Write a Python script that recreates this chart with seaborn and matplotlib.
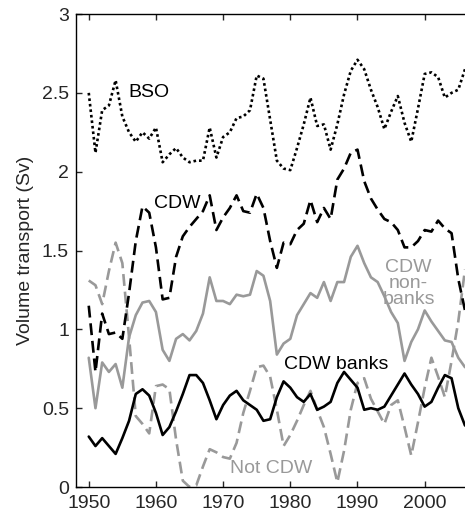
import numpy as np
import pandas as pd
import matplotlib
matplotlib.use("Agg")
import matplotlib.pyplot as plt
import seaborn as sns

years = list(range(1950, 2007))

bso = [2.50, 2.12, 2.39, 2.42, 2.58, 2.35, 2.25, 2.19, 2.25, 2.21,
       2.28, 2.06, 2.11, 2.15, 2.09, 2.06, 2.07, 2.07, 2.28, 2.09,
       2.22, 2.25, 2.34, 2.35, 2.39, 2.61, 2.59, 2.33, 2.07, 2.02,
       2.01, 2.15, 2.30, 2.47, 2.29, 2.30, 2.14, 2.30, 2.49, 2.64,
       2.71, 2.65, 2.52, 2.41, 2.27, 2.38, 2.48, 2.31, 2.19, 2.40,
       2.62, 2.63, 2.60, 2.47, 2.50, 2.52, 2.65]

cdw = [1.15, 0.73, 1.10, 0.97, 0.98, 0.94, 1.23, 1.56, 1.78, 1.74,
       1.52, 1.19, 1.20, 1.46, 1.59, 1.65, 1.70, 1.75, 1.85, 1.63,
       1.71, 1.77, 1.85, 1.75, 1.74, 1.86, 1.77, 1.56, 1.39, 1.55,
       1.54, 1.63, 1.67, 1.82, 1.68, 1.77, 1.70, 1.95, 2.02, 2.12,
       2.14, 1.94, 1.83, 1.76, 1.70, 1.68, 1.63, 1.52, 1.52, 1.56,
       1.63, 1.62, 1.69, 1.64, 1.61, 1.32, 1.12]

cdw_nonbanks = [0.82, 0.50, 0.79, 0.73, 0.78, 0.63, 0.95, 1.09, 1.17, 1.18,
                1.11, 0.87, 0.80, 0.94, 0.97, 0.93, 0.99, 1.10, 1.33, 1.18,
                1.18, 1.16, 1.22, 1.21, 1.22, 1.37, 1.34, 1.18, 0.84, 0.91,
                0.94, 1.09, 1.16, 1.23, 1.20, 1.30, 1.18, 1.30, 1.30, 1.46,
                1.53, 1.42, 1.33, 1.30, 1.21, 1.11, 1.04, 0.80, 0.92, 1.00,
                1.12, 1.05, 0.99, 0.93, 0.92, 0.82, 0.76]

cdw_banks = [0.32, 0.26, 0.31, 0.26, 0.21, 0.31, 0.42, 0.59, 0.62, 0.58,
             0.47, 0.33, 0.38, 0.48, 0.59, 0.71, 0.71, 0.66, 0.55, 0.43,
             0.52, 0.58, 0.61, 0.55, 0.52, 0.49, 0.42, 0.43, 0.57, 0.67,
             0.63, 0.57, 0.54, 0.59, 0.49, 0.51, 0.54, 0.66, 0.73, 0.68,
             0.63, 0.49, 0.50, 0.49, 0.51, 0.58, 0.65, 0.72, 0.65, 0.59,
             0.51, 0.54, 0.63, 0.71, 0.69, 0.50, 0.39]

not_cdw = [1.31, 1.28, 1.16, 1.37, 1.55, 1.42, 0.95, 0.45, 0.40, 0.34,
           0.64, 0.65, 0.62, 0.30, 0.04, 0.00, 0.01, 0.13, 0.24, 0.22,
           0.19, 0.18, 0.28, 0.47, 0.61, 0.76, 0.77, 0.70, 0.49, 0.26,
           0.33, 0.42, 0.52, 0.61, 0.49, 0.38, 0.21, 0.03, 0.23, 0.49,
           0.66, 0.69, 0.56, 0.48, 0.40, 0.52, 0.55, 0.38, 0.20, 0.41,
           0.63, 0.82, 0.70, 0.57, 0.80, 1.05, 1.38]

x_ticks = [1950, 1960, 1970, 1980, 1990, 2000]
y_ticks = [0, 0.5, 1, 1.5, 2, 2.5, 3]
y_tick_labels = ["0", "0.5", "1", "1.5", "2", "2.5", "3"]

df = pd.DataFrame({
    "year": years,
    "BSO": bso,
    "CDW": cdw,
    "CDW non-banks": cdw_nonbanks,
    "CDW banks": cdw_banks,
    "Not CDW": not_cdw,
})

sns.set_style("ticks")
plt.rcParams["font.family"] = ["Liberation Sans", "DejaVu Sans"]
plt.rcParams["font.size"] = 14

GREY = "#999999"

fig = plt.figure(figsize=(4.65, 5.18), dpi=100)
ax = fig.add_axes([0.1634, 0.0598, 0.8366, 0.9131])

lw = 1.9
sns.lineplot(data=df, x="year", y="Not CDW", ax=ax, color=GREY, lw=lw,
             linestyle=(0, (4.5, 2.2)))
sns.lineplot(data=df, x="year", y="CDW non-banks", ax=ax, color=GREY, lw=lw)
sns.lineplot(data=df, x="year", y="CDW banks", ax=ax, color="black", lw=lw)
sns.lineplot(data=df, x="year", y="CDW", ax=ax, color="black", lw=lw,
             linestyle=(0, (4.5, 2.2)))
sns.lineplot(data=df, x="year", y="BSO", ax=ax, color="black", lw=lw,
             linestyle=(0, (1, 1.1)))

ax.set_xlim(1948.1, 2006.0)
ax.set_ylim(0, 3)
ax.set_xticks(x_ticks)
ax.set_xticklabels([str(t) for t in x_ticks])
ax.set_yticks(y_ticks)
ax.set_yticklabels(y_tick_labels)
ax.set_xlabel("")
ax.set_ylabel("Volume transport (Sv)", fontsize=14, labelpad=6)

ax.tick_params(direction="in", length=4, width=1, labelsize=14,
               top=True, right=False)
ax.tick_params(axis="x", pad=6)
ax.tick_params(axis="y", pad=5)
for side in ["left", "bottom", "top"]:
    ax.spines[side].set_linewidth(1.0)
    ax.spines[side].set_color("black")
ax.spines["right"].set_visible(False)

# series labels
ax.text(1955.9, 2.50, "BSO", fontsize=14, color="black", ha="left", va="center")
ax.text(1963.2, 1.80, "CDW", fontsize=14, color="black", ha="center", va="center")
ax.text(1997.6, 1.29, "CDW\nnon-\nbanks", fontsize=14, color=GREY,
        ha="center", va="center", linespacing=0.95)
ax.text(1986.9, 0.78, "CDW banks", fontsize=14, color="black",
        ha="center", va="center")
ax.text(1977.2, 0.12, "Not CDW", fontsize=14, color=GREY,
        ha="center", va="center")

fig.savefig("out.png", dpi=100)
